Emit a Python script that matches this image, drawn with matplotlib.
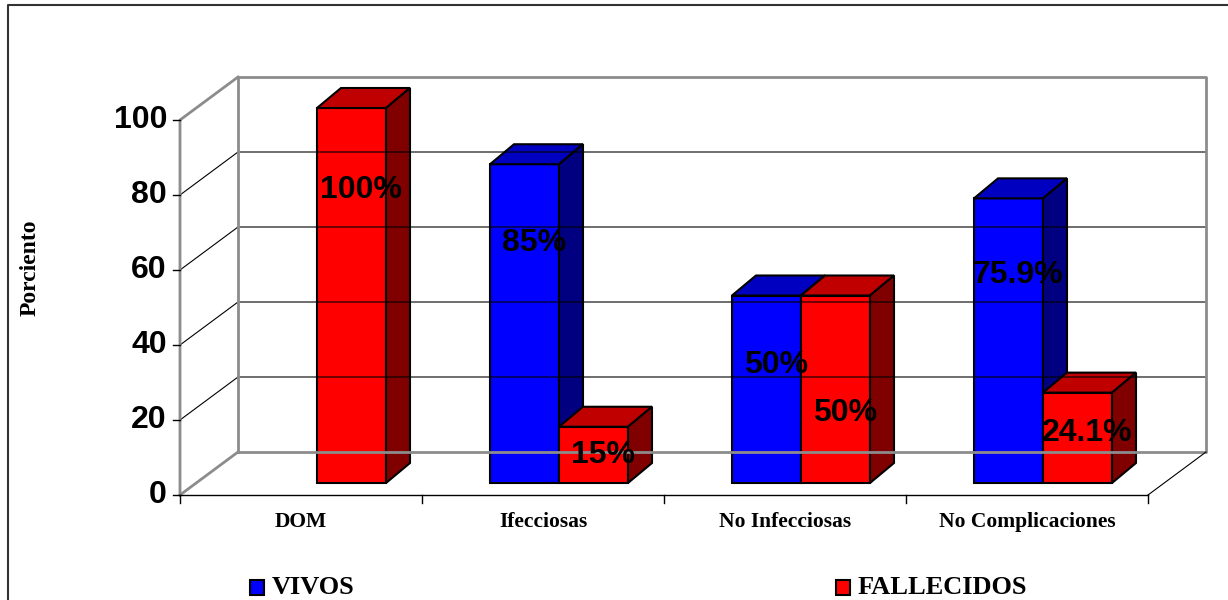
import matplotlib.pyplot as plt
from matplotlib.patches import Polygon, Rectangle
from matplotlib.lines import Line2D

# datos del grafico
categories = ['DOM', 'Ifecciosas', 'No Infecciosas', 'No Complicaciones']
series = ['VIVOS', 'FALLECIDOS']
vivos = [0, 85, 50, 75.9]
fallecidos = [100, 15, 50, 24.1]
y_ticks = [0, 20, 40, 60, 80, 100]

# altura donde va cada etiqueta de porcentaje (en unidades del eje)
label_y = [[None, 67.2, 34.7, 58.7],
           [81.3, 10.7, 21.9, 16.5]]

face_colors = [('#0000FF', '#0000C0', '#000080'),
               ('#FF0000', '#C00000', '#800000')]

# escala en pixeles: origen del plano frontal, px por categoria y por unidad
W, H = 1228, 600
X0, Y0 = 180, 495
PX_CAT, PX_UNIT = 242, 3.75

# profundidad de las paredes y de las barras
DX, DY = 58 / PX_CAT, 43 / PX_UNIT
BX0, BY0 = 16 / PX_CAT, 12 / PX_UNIT
BDX, BDY = 24 / PX_CAT, 20 / PX_UNIT
BW = 69 / PX_CAT
YMAX = 100
ncat = len(categories)

fig = plt.figure(figsize=(W / 100, H / 100), dpi=100)
ax = fig.add_axes([0, 0, 1, 1])
ax.set_xlim(-X0 / PX_CAT, (W - X0) / PX_CAT)
ax.set_ylim((Y0 - H) / PX_UNIT, Y0 / PX_UNIT)
ax.axis('off')

# marco exterior
fig.add_artist(Line2D([8 / W, 8 / W, 1], [0, 1 - 5 / H, 1 - 5 / H],
                      color='#333333', lw=1.5))

gray = '#8c8c8c'
# pared del fondo y lineas de division
ax.add_patch(Rectangle((DX, DY), ncat, YMAX, facecolor='white', edgecolor='none'))
for t in y_ticks[1:-1]:
    ax.plot([0, DX, ncat + DX], [t, t + DY, t + DY], color='black', lw=0.8)
ax.plot([DX, DX, ncat + DX, ncat + DX, DX], [DY, YMAX + DY, YMAX + DY, DY, DY],
        color=gray, lw=2)
# pared izquierda
ax.plot([0, 0, DX], [0, YMAX, YMAX + DY], color=gray, lw=2)
ax.plot([0, DX], [0, DY], color=gray, lw=2)
# piso
ax.plot([0, ncat], [0, 0], color='black', lw=1)
ax.plot([ncat, ncat + DX], [0, DY], color='black', lw=0.8)

# marcas de los ejes
for t in y_ticks:
    ax.plot([-7 / PX_CAT, 0], [t, t], color='black', lw=1)
    ax.text(-13 / PX_CAT, t, str(t), ha='right', va='center', fontsize=23,
            fontweight='bold', family='Liberation Sans')
for i in range(ncat + 1):
    ax.plot([i, i], [0, -8 / PX_UNIT], color='black', lw=1)
for i, c in enumerate(categories):
    ax.text(i + 0.5, -7.2, c, ha='center', va='center', fontsize=15.5,
            fontweight='bold', family='Liberation Serif')
ax.text(-150 / PX_CAT, 60.5, 'Porciento', rotation=90, ha='center', va='center',
        fontsize=17, fontweight='bold', family='Liberation Serif')


def draw_bar(x, h, colors):
    front, top, side = colors
    y0 = BY0
    kw = dict(edgecolor='black', lw=1.5, joinstyle='miter')
    ax.add_patch(Rectangle((x, y0), BW, h, facecolor=front, **kw))
    ax.add_patch(Polygon([(x, y0 + h), (x + BW, y0 + h),
                          (x + BW + BDX, y0 + h + BDY), (x + BDX, y0 + h + BDY)],
                         facecolor=top, **kw))
    ax.add_patch(Polygon([(x + BW, y0), (x + BW + BDX, y0 + BDY),
                          (x + BW + BDX, y0 + h + BDY), (x + BW, y0 + h)],
                         facecolor=side, **kw))


for i in range(ncat):
    for s, vals in enumerate([vivos, fallecidos]):
        v = vals[i]
        if v <= 0:
            continue
        x = i + 0.5 + BX0 - BW + s * BW
        draw_bar(x, v, face_colors[s])
        ax.text(x + BW / 2 + 0.04, label_y[s][i], f'{v:g}%', ha='center',
                va='center', fontsize=23, fontweight='bold',
                family='Liberation Sans', color='black')

# leyenda
legend_x = [250, 836]
for s, name in enumerate(series):
    lx = (legend_x[s] - X0) / PX_CAT
    ax.add_patch(Rectangle((lx, (Y0 - 595) / PX_UNIT), 14 / PX_CAT, 15 / PX_UNIT,
                           facecolor=face_colors[s][0], edgecolor='black', lw=1.5))
    ax.text(lx + 22 / PX_CAT, (Y0 - 588) / PX_UNIT, name, ha='left', va='center',
            fontsize=19, fontweight='bold', family='Liberation Serif')

fig.savefig('out.png', dpi=100)
